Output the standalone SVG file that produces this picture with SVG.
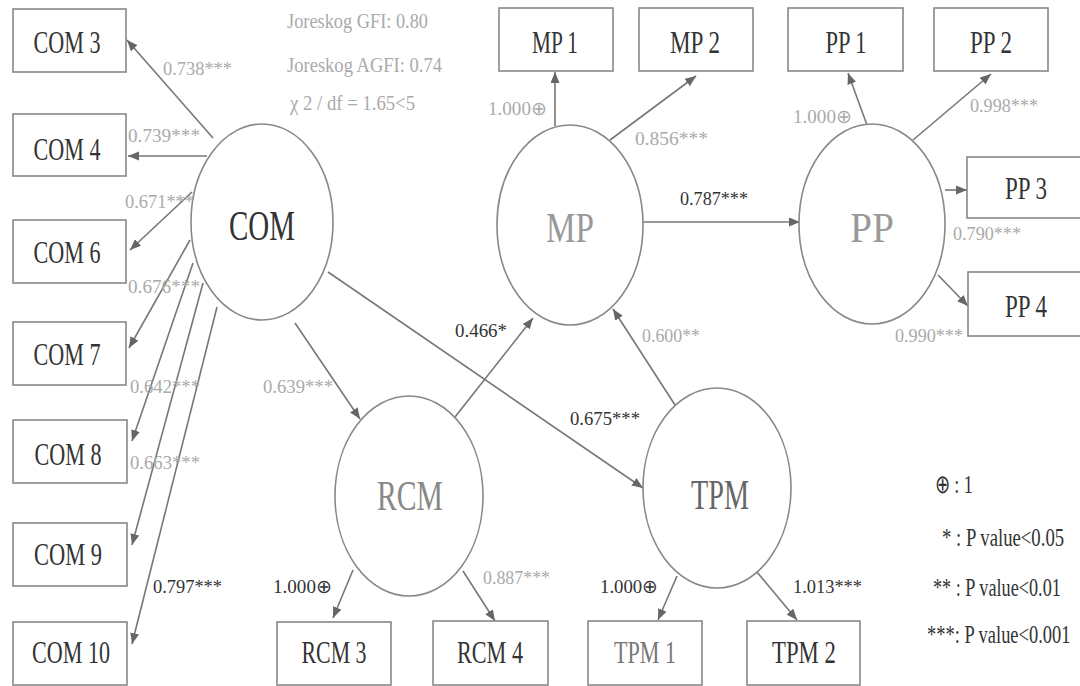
<svg xmlns="http://www.w3.org/2000/svg" width="1080" height="686" viewBox="0 0 1080 686">
<style>
.box{fill:#fff;stroke:#888;stroke-width:1.6}
.ell{fill:#fff;stroke:#888;stroke-width:1.6}
.bt{font-family:"Liberation Serif",serif;font-size:31px;fill:#333;text-anchor:middle}
.et{font-family:"Liberation Serif",serif;font-size:42px;fill:#333;text-anchor:middle}
.g1{fill:#999}
.g2{fill:#888}
.g3{fill:#666}
.g4{fill:#777}
.lb{font-family:"Liberation Serif",serif;font-size:19px;fill:#aaa}
.ld{fill:#333}
.lg{font-family:"Liberation Serif",serif;font-size:26px;fill:#333}
.st{font-family:"Liberation Serif",serif;font-size:21px;fill:#aaa}
.c{stroke:#777;stroke-width:1.6;fill:none;marker-end:url(#ah)}
</style>
<defs>
<marker id="ah" markerUnits="userSpaceOnUse" markerWidth="12" markerHeight="10" refX="11" refY="4.5" orient="auto">
<path d="M0,0 L11,4.5 L0,9 z" fill="#666"/>
</marker>
</defs>
<rect width="1080" height="686" fill="#fff"/>

<g id="connectors">
<line class="c" x1="213" y1="138" x2="127" y2="40"/>
<line class="c" x1="207" y1="156" x2="128" y2="156"/>
<line class="c" x1="192" y1="192" x2="130" y2="250"/>
<line class="c" x1="190" y1="240" x2="129" y2="348"/>
<line class="c" x1="193" y1="263" x2="132" y2="441"/>
<line class="c" x1="203" y1="283" x2="132" y2="545"/>
<line class="c" x1="217" y1="307" x2="132" y2="644"/>
<line class="c" x1="295" y1="323" x2="360" y2="419"/>
<line class="c" x1="328" y1="272" x2="643" y2="488"/>
<line class="c" x1="455" y1="417" x2="533" y2="318"/>
<line class="c" x1="675" y1="405" x2="613" y2="309"/>
<line class="c" x1="555" y1="126" x2="555" y2="72"/>
<line class="c" x1="610" y1="140" x2="696" y2="76"/>
<line class="c" x1="643" y1="222" x2="800" y2="222"/>
<line class="c" x1="867" y1="125" x2="848" y2="73"/>
<line class="c" x1="913" y1="140" x2="991" y2="74"/>
<line class="c" x1="945" y1="190" x2="967" y2="190"/>
<line class="c" x1="938" y1="275" x2="968" y2="306"/>
<line class="c" x1="353" y1="570" x2="333" y2="618"/>
<line class="c" x1="463" y1="571" x2="495" y2="621"/>
<line class="c" x1="677" y1="576" x2="658" y2="620"/>
<line class="c" x1="752" y1="566" x2="797" y2="620"/>
</g>

<g id="COM"><ellipse class="ell" cx="262" cy="222" rx="71" ry="98"/><text class="et" x="262" y="240" textLength="66" lengthAdjust="spacingAndGlyphs">COM</text></g>
<g id="MP"><ellipse class="ell" cx="570" cy="225" rx="73" ry="100"/><text class="et g1" x="570" y="242" textLength="48" lengthAdjust="spacingAndGlyphs">MP</text></g>
<g id="PP"><ellipse class="ell" cx="872" cy="224" rx="73" ry="100"/><text class="et g1" x="872" y="242" textLength="44" lengthAdjust="spacingAndGlyphs">PP</text></g>
<g id="RCM"><ellipse class="ell" cx="409" cy="496" rx="74" ry="100"/><text class="et g2" x="410" y="510" textLength="66" lengthAdjust="spacingAndGlyphs">RCM</text></g>
<g id="TPM"><ellipse class="ell" cx="717" cy="488" rx="74" ry="100"/><text class="et g3" x="720" y="509" textLength="58" lengthAdjust="spacingAndGlyphs">TPM</text></g>

<g id="COM3"><rect class="box" x="13" y="9" width="113" height="63"/><text class="bt" x="67" y="53" textLength="67" lengthAdjust="spacingAndGlyphs">COM 3</text></g>
<g id="COM4"><rect class="box" x="13" y="114" width="113" height="62"/><text class="bt" x="67" y="160" textLength="67" lengthAdjust="spacingAndGlyphs">COM 4</text></g>
<g id="COM6"><rect class="box" x="13" y="220" width="113" height="63"/><text class="bt" x="67" y="263" textLength="67" lengthAdjust="spacingAndGlyphs">COM 6</text></g>
<g id="COM7"><rect class="box" x="13" y="322" width="113" height="63"/><text class="bt" x="67" y="365" textLength="67" lengthAdjust="spacingAndGlyphs">COM 7</text></g>
<g id="COM8"><rect class="box" x="13" y="420" width="114" height="63"/><text class="bt" x="68" y="465" textLength="67" lengthAdjust="spacingAndGlyphs">COM 8</text></g>
<g id="COM9"><rect class="box" x="13" y="523" width="114" height="63"/><text class="bt" x="68" y="565" textLength="68" lengthAdjust="spacingAndGlyphs">COM 9</text></g>
<g id="COM10"><rect class="box" x="13" y="622" width="114" height="63"/><text class="bt" x="71" y="663" textLength="78" lengthAdjust="spacingAndGlyphs">COM 10</text></g>

<g id="MP1"><rect class="box" x="499" y="8" width="114" height="63"/><text class="bt" x="555" y="53" textLength="46" lengthAdjust="spacingAndGlyphs">MP 1</text></g>
<g id="MP2"><rect class="box" x="639" y="8" width="114" height="63"/><text class="bt" x="695" y="53" textLength="50" lengthAdjust="spacingAndGlyphs">MP 2</text></g>
<g id="PP1"><rect class="box" x="788" y="8" width="115" height="63"/><text class="bt" x="846" y="53" textLength="41" lengthAdjust="spacingAndGlyphs">PP 1</text></g>
<g id="PP2"><rect class="box" x="934" y="8" width="114" height="63"/><text class="bt" x="991" y="53" textLength="42" lengthAdjust="spacingAndGlyphs">PP 2</text></g>
<g id="PP3"><rect class="box" x="967" y="157" width="120" height="61"/><text class="bt" x="1026" y="199" textLength="42" lengthAdjust="spacingAndGlyphs">PP 3</text></g>
<g id="PP4"><rect class="box" x="968" y="272" width="120" height="64"/><text class="bt" x="1026" y="317" textLength="42" lengthAdjust="spacingAndGlyphs">PP 4</text></g>

<g id="RCM3"><rect class="box" x="277" y="622" width="114" height="63"/><text class="bt" x="334" y="663" textLength="65" lengthAdjust="spacingAndGlyphs">RCM 3</text></g>
<g id="RCM4"><rect class="box" x="433" y="621" width="115" height="64"/><text class="bt" x="490" y="663" textLength="66" lengthAdjust="spacingAndGlyphs">RCM 4</text></g>
<g id="TPM1"><rect class="box" x="588" y="621" width="114" height="64"/><text class="bt g4" x="645" y="663" textLength="62" lengthAdjust="spacingAndGlyphs">TPM 1</text></g>
<g id="TPM2"><rect class="box" x="747" y="621" width="113" height="64"/><text class="bt" x="804" y="663" textLength="64" lengthAdjust="spacingAndGlyphs">TPM 2</text></g>

<g id="labels">
<text class="lb" x="163" y="75" textLength="69" lengthAdjust="spacingAndGlyphs">0.738***</text>
<text class="lb" x="128" y="142" textLength="72" lengthAdjust="spacingAndGlyphs">0.739***</text>
<text class="lb" x="125" y="208" textLength="69" lengthAdjust="spacingAndGlyphs">0.671***</text>
<text class="lb" x="128" y="293" textLength="72" lengthAdjust="spacingAndGlyphs">0.676***</text>
<text class="lb" x="130" y="393" textLength="70" lengthAdjust="spacingAndGlyphs">0.642***</text>
<text class="lb" x="130" y="469" textLength="70" lengthAdjust="spacingAndGlyphs">0.663***</text>
<text class="lb ld" x="153" y="593" textLength="69" lengthAdjust="spacingAndGlyphs">0.797***</text>
<text class="lb" x="263" y="393" textLength="70" lengthAdjust="spacingAndGlyphs">0.639***</text>
<text class="lb ld" x="273" y="593" textLength="59" lengthAdjust="spacingAndGlyphs">1.000⊕</text>
<text class="lb" x="483" y="584" textLength="67" lengthAdjust="spacingAndGlyphs">0.887***</text>
<text class="lb ld" x="600" y="593" textLength="58" lengthAdjust="spacingAndGlyphs">1.000⊕</text>
<text class="lb ld" x="793" y="593" textLength="69" lengthAdjust="spacingAndGlyphs">1.013***</text>
<text class="lb ld" x="455" y="337" textLength="52" lengthAdjust="spacingAndGlyphs">0.466*</text>
<text class="lb" x="642" y="342" textLength="58" lengthAdjust="spacingAndGlyphs">0.600**</text>
<text class="lb ld" x="570" y="425" textLength="70" lengthAdjust="spacingAndGlyphs">0.675***</text>
<text class="lb" x="488" y="115" textLength="59" lengthAdjust="spacingAndGlyphs">1.000⊕</text>
<text class="lb" x="635" y="145" textLength="73" lengthAdjust="spacingAndGlyphs">0.856***</text>
<text class="lb ld" x="680" y="205" textLength="68" lengthAdjust="spacingAndGlyphs">0.787***</text>
<text class="lb" x="793" y="123" textLength="59" lengthAdjust="spacingAndGlyphs">1.000⊕</text>
<text class="lb" x="970" y="112" textLength="68" lengthAdjust="spacingAndGlyphs">0.998***</text>
<text class="lb" x="953" y="240" textLength="68" lengthAdjust="spacingAndGlyphs">0.790***</text>
<text class="lb" x="895" y="342" textLength="68" lengthAdjust="spacingAndGlyphs">0.990***</text>
</g>

<g id="stats">
<text class="st" x="287" y="28" textLength="141" lengthAdjust="spacingAndGlyphs">Joreskog GFI: 0.80</text>
<text class="st" x="287" y="72" textLength="155" lengthAdjust="spacingAndGlyphs">Joreskog AGFI: 0.74</text>
<text class="st" x="290" y="110" textLength="125" lengthAdjust="spacingAndGlyphs">χ 2 / df = 1.65&lt;5</text>
</g>

<g id="legend">
<text class="lg" transform="translate(935,493) scale(0.7,1)">⊕ : 1</text>
<text class="lg" transform="translate(942,546) scale(0.72,1)">* : P value&lt;0.05</text>
<text class="lg" transform="translate(933,596) scale(0.7,1)">** : P value&lt;0.01</text>
<text class="lg" transform="translate(927,643) scale(0.71,1)">***: P value&lt;0.001</text>
</g>
</svg>
